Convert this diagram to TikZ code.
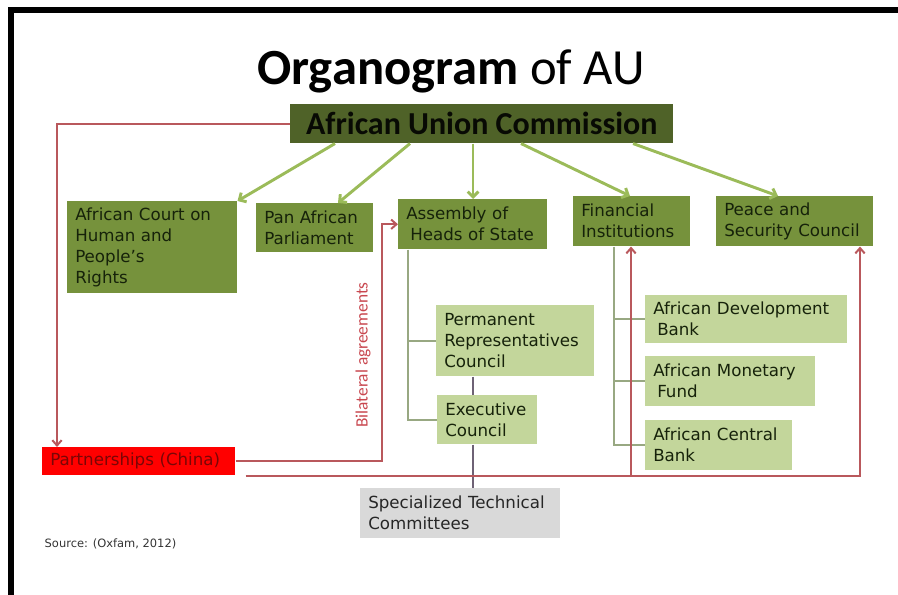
\documentclass[tikz,border=0pt]{standalone}
\usepackage{fontspec}
\setmainfont{DejaVu Sans}
\newfontfamily\calibri{Carlito}
\usetikzlibrary{arrows.meta}

\definecolor{aucgreen}{HTML}{4F6228}
\definecolor{olivebox}{HTML}{76923C}
\definecolor{sagebox}{HTML}{C3D69B}
\definecolor{stcgray}{HTML}{D9D9D9}
\definecolor{feedgreen}{HTML}{9BBB59}
\definecolor{linkgray}{HTML}{98A882}
\definecolor{linkdark}{HTML}{6E6275}
\definecolor{tiered}{HTML}{B9585C}
\definecolor{bilatred}{HTML}{C8474F}
\definecolor{boxtext}{HTML}{16220A}
\definecolor{chinatext}{HTML}{7A0606}

\tikzset{
  orgbox/.style={rectangle, anchor=north west, inner xsep=6pt, inner ysep=0pt,
    align=left, text=boxtext, font=\fontsize{12.5}{15.75}\selectfont},
  darkbox/.style={orgbox, fill=olivebox},
  lightbox/.style={orgbox, fill=sagebox},
  feed/.style={draw=feedgreen, line width=2.2pt, -{Straight Barb[length=4pt,width=8pt]}},
  branch/.style={draw=linkgray, line width=1.8pt},
  chain/.style={draw=linkdark, line width=1.5pt},
  tie/.style={draw=tiered, line width=1.5pt},
  tiearrow/.style={tie, -{Straight Barb[length=4pt,width=7pt]}}
}

\begin{document}
\begin{tikzpicture}[x=0.75pt, y=-0.75pt]
    \useasboundingbox (0,0) rectangle (898,595);

% columns of the bus lines (px)
    \def\asmx{408};
    \def\finx{614};
    \def\chainx{473};

% frame
    \fill[black] (8,7) rectangle (898,13);
    \fill[black] (8,7) rectangle (14,595);

% title
    \node[anchor=base, font=\calibri\fontsize{38}{40}\selectfont] (title) at (451,85)
        {\textbf{Organogram} of AU};

% commission
    \node[rectangle, anchor=north west, fill=aucgreen, minimum width=287.25pt,
        minimum height=29.25pt, inner sep=0pt, text=black!90!aucgreen,
        font=\calibri\bfseries\fontsize{24}{26}\selectfont] (auc) at (290,104)
        {African Union Commission};

% first row
    \node[darkbox, text width=115.5pt, minimum height=69pt] (court) at (67,201)
        {African Court on\\Human and\\People’s\\Rights};
    \node[darkbox, text width=75.75pt, minimum height=36.75pt] (pan) at (256,203)
        {Pan African\\Parliament};
    \node[darkbox, text width=99.75pt, minimum height=37.5pt] (assembly) at (398,199)
        {Assembly of\\\hspace{3pt}Heads of State};
    \node[darkbox, text width=75.75pt, minimum height=37.5pt] (financial) at (573,196)
        {Financial\\Institutions};
    \node[darkbox, text width=105.75pt, minimum height=37.5pt] (peace) at (716,196)
        {Peace and\\Security Council};

% assembly branch
    \node[lightbox, text width=106.5pt, minimum height=53.25pt] (perm) at (436,305)
        {Permanent\\Representatives\\Council};
    \node[lightbox, text width=63pt, minimum height=36.75pt] (exec) at (437,395)
        {Executive\\Council};
    \node[orgbox, fill=stcgray, text=black!85, text width=138pt, minimum height=37.5pt] (stc) at (360,488)
        {Specialized Technical\\Committees};

% financial branch
    \node[lightbox, text width=139.5pt, minimum height=36pt] (adb) at (645,295)
        {African Development\\\hspace{3pt}Bank};
    \node[lightbox, text width=115.5pt, minimum height=37.5pt] (amf) at (645,356)
        {African Monetary\\\hspace{3pt}Fund};
    \node[lightbox, text width=98.25pt, minimum height=37.5pt] (acb) at (645,420)
        {African Central\\Bank};

% partners
    \node[orgbox, fill=red, text=chinatext, text width=132.75pt, minimum height=21pt] (partner) at (42,447)
        {Partnerships (China)};
    \node[rotate=90, text=bilatred, font=\calibri\fontsize{13}{14}\selectfont] (bilat) at (363,355)
        {Bilateral agreements};

% source
    \node[anchor=base west, text=black!80, font=\fontsize{8.6}{10}\selectfont] (source) at (40,547)
        {Source: (Oxfam, 2012)};

% commission to organs
    \draw[feed] (335,0 |- auc.south) -- (court.north east);
    \draw[feed] (410,0 |- auc.south) -- (338,0 |- pan.north);
    \draw[feed] (\chainx,0 |- auc.south) -- (\chainx,0 |- assembly.north);
    \draw[feed] (521,0 |- auc.south) -- (630,0 |- financial.north);
    \draw[feed] (633,0 |- auc.south) -- (778,0 |- peace.north);

% assembly bus
    \draw[branch] (\asmx,0 |- assembly.south) |- (exec.west);
    \draw[branch] (\asmx,0 |- perm.west) -- (perm.west);
    \draw[chain] (\chainx,0 |- perm.south) -- (\chainx,0 |- exec.north);
    \draw[chain] (\chainx,0 |- exec.south) -- (\chainx,0 |- stc.north);

% financial bus
    \draw[branch] (\finx,0 |- financial.south) |- (acb.west);
    \draw[branch] (\finx,0 |- adb.west) -- (adb.west);
    \draw[branch] (\finx,0 |- amf.west) -- (amf.west);

% red ties
    \draw[tiearrow] (auc.west) -| ([xshift=11.25pt]partner.north west);
    \draw[tiearrow] (partner.east) -| (382,0 |- assembly.west) -- (assembly.west);
    \coordinate (busstart) at ([xshift=7.5pt]partner.south east);
    \draw[tiearrow] (busstart) -| (860,0 |- peace.south);
    \draw[tiearrow] (631,0 |- busstart) -- (631,0 |- financial.south);

\end{tikzpicture}
\end{document}
